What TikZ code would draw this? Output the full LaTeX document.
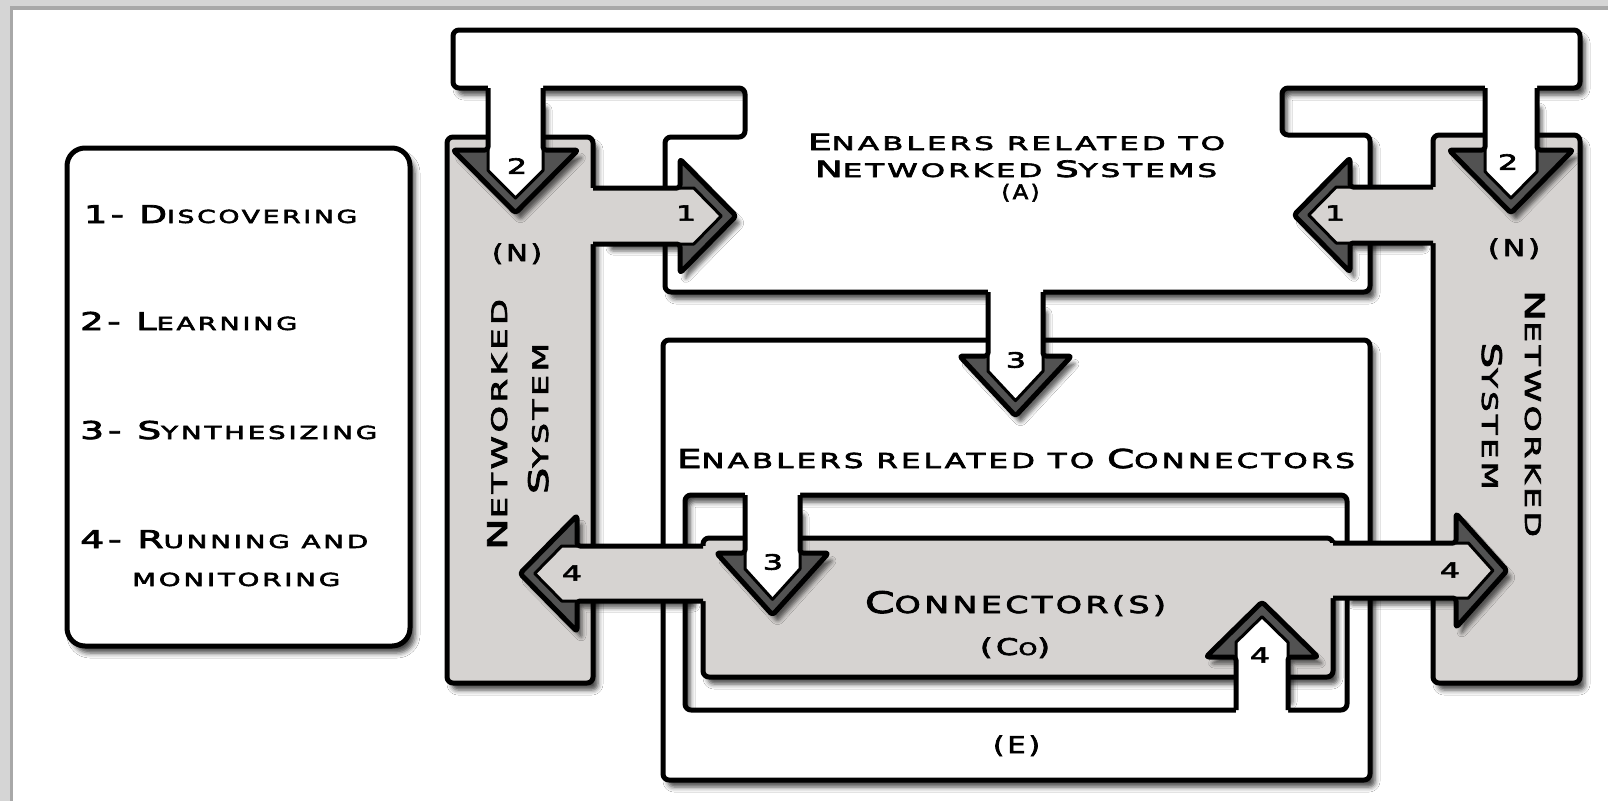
\documentclass[tikz,border=0pt]{standalone}
\usepackage{fontspec}
\usepackage{graphicx}
\usetikzlibrary{shadows.blur}
\newfontfamily\bank[FakeStretch=1.15,LetterSpace=12,FakeBold=3]{DejaVu Sans}

\definecolor{ngray}{RGB}{214,211,209}
\definecolor{rimgray}{RGB}{82,82,82}
\definecolor{framegray}{RGB}{213,213,213}
\definecolor{frameline}{RGB}{168,168,168}

\newcommand\fs[1]{\fontsize{#1}{#1}\selectfont}
\newcommand\fitw[2]{\resizebox{#1pt}{\height}{#2}}

% arrow overlay: back centre (#1,#2), rotation #3, stem half width #4,
% barb half width #5, head length #6, stem length behind the head #7, fill #8
\newcommand\arrowhead[8]{%
  \pgfmathsetmacro\arrHyp{sqrt((#6)*(#6)+(#5)*(#5))}%
  \pgfmathsetmacro\arrTip{#6-10.5*\arrHyp/#5}%
  \pgfmathsetmacro\arrIn{((#5-#4)*#6-10.5*\arrHyp)/#5}%
  \pgfmathsetmacro\arrBack{#7+9}%
  \pgfmathsetmacro\arrShad{#7-12}%
  \begin{scope}[shift={(#1+5,#2+7)},rotate=#3]
    \path[rounded corners=3pt,blur shadow={shadow xshift=0pt,shadow yshift=0pt,shadow blur radius=4pt,shadow opacity=60}]
      (-#4,-\arrShad) -- (-#4,0) -- (-#5,0) -- (0,#6) -- (#5,0) -- (#4,0) -- (#4,-\arrShad) -- cycle;
  \end{scope}
  \begin{scope}[shift={(#1,#2)},rotate=#3]
    \fill[#8,rounded corners=3pt]
      (-#4,-\arrBack) -- (-#4,0) -- (-#5,0) -- (0,#6) -- (#5,0) -- (#4,0) -- (#4,-\arrBack) -- cycle;
    \fill[rimgray,rounded corners=2pt]
      (-#4,0) -- (-#5,0) -- (0,#6) -- (#5,0) -- (#4,0) -- (#4,\arrIn) -- (0,\arrTip) -- (-#4,\arrIn) -- cycle;
    \draw[line width=3pt,line join=round]
      (-#4,0) -- (-#4,\arrIn) -- (0,\arrTip) -- (#4,\arrIn) -- (#4,0);
    \draw[line width=5pt,rounded corners=3pt,line join=round]
      (-#4,-#7) -- (-#4,0) -- (-#5,0) -- (0,#6) -- (#5,0) -- (#4,0) -- (#4,-#7);
  \end{scope}}

\tikzset{
  piece/.style={draw=black,line width=5pt,rounded corners=6pt,line join=round},
  wpiece/.style={piece,fill=white},
  gpiece/.style={piece,fill=ngray},
  shad/.style={blur shadow={shadow xshift=5pt,shadow yshift=-7pt,shadow blur radius=5pt,shadow opacity=72}},
  lbl/.style={inner sep=0pt,text=black,font=\bank},
  num/.style={lbl,font=\bank\fs{21}},
}

\begin{document}
\begin{tikzpicture}[x=1pt,y=-1pt]
\useasboundingbox (0,0) rectangle (1608,801);

% page frame
\fill[framegray] (0,0) rectangle (1608,801);
\fill[frameline] (10,6) rectangle (1608,801);
\fill[white] (13,10) rectangle (1608,801);

% legend card
\draw[piece,fill=white,shad,rounded corners=18pt] (67,148) rectangle (410,646);

% top bar joined to the enablers of networked systems (A)
\draw[wpiece,shad] (453,30) -- (1580,30) -- (1580,88) -- (1282,88) -- (1282,135)
  -- (1370,135) -- (1370,292) -- (665,292) -- (665,137) -- (745,137) -- (745,88)
  -- (453,88) -- cycle;

% networked systems (N)
\draw[gpiece,shad] (447,137) rectangle (593,683);
\draw[gpiece,shad] (1433,135) rectangle (1580,683);

% enablers of connectors (E): frame with an opening
\draw[wpiece,shad] (663,340) -- (1370,340) -- (1370,780) -- (663,780) -- cycle
  (685,495) -- (685,710) -- (1347,710) -- (1347,495) -- cycle;

% connector(s) (Co)
\draw[gpiece,shad] (703,538) rectangle (1333,677);

% arrows
\arrowhead{515.5}{150}{0}{27.5}{62.5}{63}{62}{white}
\arrowhead{1511}{150}{0}{26}{62}{63}{62}{white}
\arrowhead{680}{216}{90}{28}{57}{56}{87}{ngray}
\arrowhead{1350}{215}{-90}{28}{57}{56}{83}{ngray}
\arrowhead{1015.5}{356}{0}{27.5}{56}{60}{64}{white}
\arrowhead{772.5}{553}{0}{27.5}{56}{62}{58}{white}
\arrowhead{1262}{657}{180}{26}{56}{55}{53}{white}
\arrowhead{577}{573.5}{-90}{27.5}{58}{57}{126}{ngray}
\arrowhead{1456}{570.5}{90}{27.5}{57}{51}{123}{ngray}

% arrow numbers
\node[num] (n2l) at (517,166) {\scalebox{1.3}[1]{2}};
\node[num] (n2r) at (1508,162) {\scalebox{1.3}[1]{2}};
\node[num] (n1l) at (686,213) {\scalebox{1.3}[1]{1}};
\node[num] (n1r) at (1335,213) {\scalebox{1.3}[1]{1}};
\node[num] (n3u) at (1016,360) {\scalebox{1.3}[1]{3}};
\node[num] (n3l) at (773,562) {\scalebox{1.3}[1]{3}};
\node[num] (n4l) at (572,573) {\scalebox{1.3}[1]{4}};
\node[num] (n4r) at (1450,570) {\scalebox{1.3}[1]{4}};
\node[num] (n4u) at (1260,655) {\scalebox{1.3}[1]{4}};

% legend entries
\node[lbl,anchor=base west] (l1) at (84,223) {\fitw{273}{\fs{24.5}1- D\fs{18}ISCOVERING}};
\node[lbl,anchor=base west] (l2) at (80,330) {\fitw{217}{\fs{24.5}2- L\fs{18}EARNING}};
\node[lbl,anchor=base west] (l3) at (80,439) {\fitw{297}{\fs{24.5}3- S\fs{18}YNTHESIZING}};
\node[lbl,anchor=base west] (l4) at (80,548) {\fitw{288}{\fs{24.5}4- R\fs{18}UNNING AND}};
\node[lbl,anchor=base west] (l5) at (132,586) {\fitw{208}{\fs{18}MONITORING}};

% texts of A
\node[lbl,anchor=base] (a1) at (1016.5,150) {\fitw{417}{\fs{22.5}E\fs{18.5}NABLERS RELATED TO}};
\node[lbl,anchor=base] (a2) at (1016,177) {\fitw{402}{\fs{22.5}N\fs{18.5}ETWORKED \fs{22.5}S\fs{18.5}YSTEMS}};
\node[lbl,anchor=base] (a3) at (1020.5,199) {\fitw{38}{\fs{20}(A)}};

% texts of N
\node[lbl,anchor=base] (nl0) at (517,261) {\fitw{50}{\fs{23}(N)}};
\node[lbl,anchor=base] (nr0) at (1514,256) {\fitw{52}{\fs{23}(N)}};
\node[lbl,anchor=base,rotate=90] (nl1) at (507,424.5) {\fitw{251}{\fs{27}N\fs{21.5}ETWORKED}};
\node[lbl,anchor=base,rotate=90] (nl2) at (548,418.5) {\fitw{151}{\fs{27}S\fs{21.5}YSTEM}};
\node[lbl,anchor=base,rotate=-90] (nr1) at (1525,413.5) {\fitw{247}{\fs{27}N\fs{21.5}ETWORKED}};
\node[lbl,anchor=base,rotate=-90] (nr2) at (1482,416) {\fitw{147}{\fs{27}S\fs{21.5}YSTEM}};

% texts of E and Co
\node[lbl,anchor=base] (e1) at (1016,468) {\fitw{678}{\fs{26}E\fs{20.6}NABLERS RELATED TO \fs{26}C\fs{20.6}ONNECTORS}};
\node[lbl,anchor=base] (c1) at (1015.5,613) {\fitw{301}{\fs{29.7}C\fs{23.3}ONNECTOR(S)}};
\node[lbl,anchor=base] (c2) at (1015,655) {\fitw{70}{\fs{23}(C\fs{17}O\fs{23})}};
\node[lbl,anchor=base] (e2) at (1016.5,753) {\fitw{47}{\fs{23}(E)}};
\end{tikzpicture}
\end{document}
